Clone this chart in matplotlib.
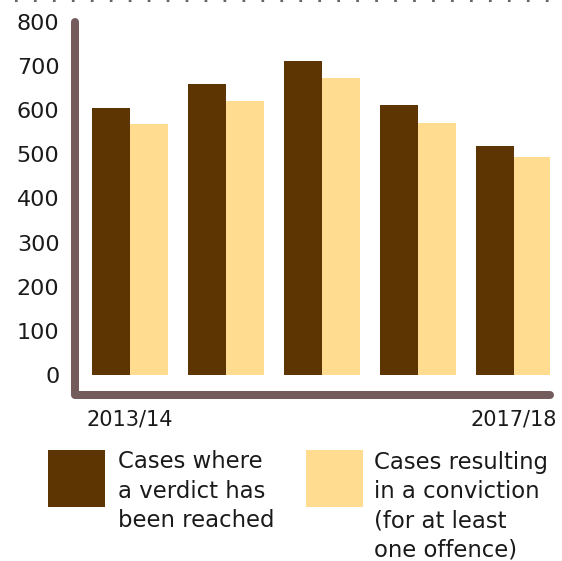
import matplotlib
matplotlib.use("Agg")
import matplotlib.pyplot as plt
import numpy as np
from matplotlib.patches import Rectangle
from matplotlib.lines import Line2D

# data
years = ["2013/14", "2014/15", "2015/16", "2016/17", "2017/18"]
verdict = [605, 659, 711, 611, 519]
conviction = [568, 620, 672, 571, 494]
series_names = ["Cases where\na verdict has\nbeen reached",
                "Cases resulting\nin a conviction\n(for at least\none offence)"]
series_colors = ["#5C3503", "#FFDC90"]
axis_color = "#735C5B"

W, H = 562, 561
fig = plt.figure(figsize=(W / 100, H / 100), dpi=100)

# axes placed in pixels (left, bottom, right, top from top edge)
left_px, right_px, top_px, bottom_px = 74.7, 550, 21.7, 394.7
ax = fig.add_axes([left_px / W, 1 - bottom_px / H,
                   (right_px - left_px) / W, (bottom_px - top_px) / H])

x = np.arange(len(years))
bw = 0.396
ax.bar(x - bw / 2, verdict, bw, color=series_colors[0], linewidth=0)
ax.bar(x + bw / 2, conviction, bw, color=series_colors[1], linewidth=0)

ax.set_xlim(-0.576, 4.375)
ax.set_ylim(-44.6, 800)

for s in ax.spines.values():
    s.set_visible(False)

# L shaped axis with rounded ends
ax.plot([0, 0, 1], [1, 0, 0], transform=ax.transAxes, color=axis_color,
        lw=5.76, solid_capstyle="round", solid_joinstyle="round",
        clip_on=False, zorder=5)

ax.set_yticks(range(0, 801, 100))
ax.tick_params(axis="y", length=0, pad=11, labelsize=16, labelcolor="#1a1a1a")
ax.set_xticks([x[0], x[-1]])
ax.set_xticklabels([years[0], years[-1]])
ax.tick_params(axis="x", length=0, pad=10.5, labelsize=15, labelcolor="#1a1a1a")

# dotted rule at the very top
fig.add_artist(Line2D([15 / W, 1], [1 - 1.2 / H, 1 - 1.2 / H],
                      transform=fig.transFigure, color="#666666", lw=1.5,
                      linestyle=(0, (1.3, 7.8))))

# legend drawn by hand
sw = 57
for i, (name, col) in enumerate(zip(series_names, series_colors)):
    sx = [48, 306][i]
    tx = [118, 374][i]
    fig.add_artist(Rectangle((sx / W, 1 - (450 + sw) / H), sw / W, sw / H,
                             transform=fig.transFigure, color=col, lw=0))
    fig.text(tx / W, 1 - 450.5 / H, name, ha="left", va="top", fontsize=16.4,
             color="#1a1a1a", linespacing=1.36)

fig.savefig("out.png", dpi=100)
